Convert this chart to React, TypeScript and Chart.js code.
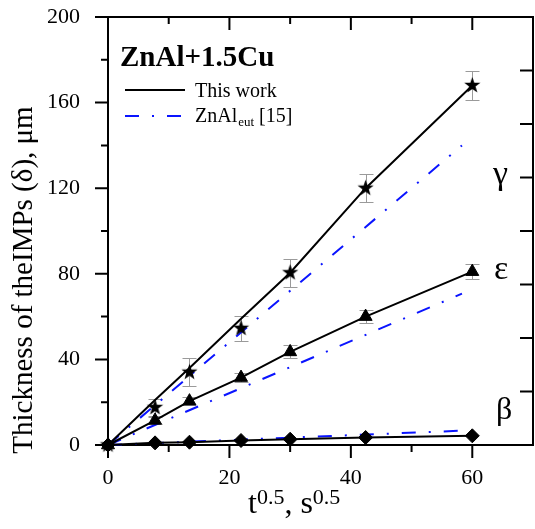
import React, { useEffect, useRef } from "react";
import { Chart, registerables } from "chart.js";

Chart.register(...registerables);

// ---- data ----
const tX = [0, 7.75, 13.42, 21.91, 30, 42.43, 60];
const gammaPts = [0, 17.5, 34, 54.5, 80.5, 120, 168];
const gammaErr = [0, 4, 6.5, 6, 6.5, 6.5, 7];
const gammaFit = [0, 21, 36, 59, 80.5, 120, 168];
const epsPts = [0, 11.5, 20.5, 31.5, 43.5, 60, 81];
const epsErr = [0, 1.5, 2, 2, 3, 3, 3.5];
const betaPts = [0, 1, 1.3, 2.1, 2.7, 3.5, 4.3];
const refX = [0, 58.3];
const refGamma = [0, 140];
const refEps = [0, 70.7];
const refBeta = [0, 6.7];
const xTickLabels = [0, 20, 40, 60];
const yTickLabels = [0, 40, 80, 120, 160, 200];
const rightTicks = [25, 50, 75, 100, 125, 150, 175];

const SERIF = '"Liberation Serif", "Times New Roman", serif';
const BLUE = "#0a14ff";

const toXY = (xs: number[], ys: number[]) => xs.map((x, i) => ({ x, y: ys[i] }));

function makeStar(outer: number, inner: number) {
  const s = Math.ceil(outer * 2 + 2);
  const c = document.createElement("canvas");
  c.width = s;
  c.height = s;
  const g = c.getContext("2d")!;
  g.beginPath();
  for (let i = 0; i < 10; i++) {
    const r = i % 2 === 0 ? outer : inner;
    const a = -Math.PI / 2 + (i * Math.PI) / 5;
    const px = s / 2 + r * Math.cos(a);
    const py = s / 2 + r * Math.sin(a);
    if (i === 0) g.moveTo(px, py);
    else g.lineTo(px, py);
  }
  g.closePath();
  g.fillStyle = "#000";
  g.fill();
  return c;
}

const framePlugin = {
  id: "frameTicks",
  beforeDatasetsDraw(chart: any) {
    const { ctx, chartArea: a } = chart;
    const xs = chart.scales.x;
    const ys = chart.scales.y;
    ctx.save();
    ctx.strokeStyle = "#000";
    ctx.lineWidth = 2;
    ctx.strokeRect(a.left, a.top, a.right - a.left, a.bottom - a.top);
    ctx.beginPath();
    // left (outward) and right (inward)
    for (let v = 0; v <= 200; v += 20) {
      const py = ys.getPixelForValue(v);
      const len = v % 40 === 0 ? 13 : 7;
      ctx.moveTo(a.left - len, py);
      ctx.lineTo(a.left, py);
    }
    rightTicks.forEach((v) => {
      const py = ys.getPixelForValue(v);
      ctx.moveTo(a.right, py);
      ctx.lineTo(a.right - 13, py);
    });
    // bottom (outward) and top (inward)
    for (let v = 0; v <= 60; v += 10) {
      const px = xs.getPixelForValue(v);
      const len = v % 20 === 0 ? 13 : 7;
      ctx.moveTo(px, a.bottom);
      ctx.lineTo(px, a.bottom + len);
      if (v > 0) {
        ctx.moveTo(px, a.top);
        ctx.lineTo(px, a.top + len);
      }
    }
    ctx.stroke();

    // error bars
    ctx.strokeStyle = "#9a9a9a";
    ctx.lineWidth = 1;
    chart.data.datasets.forEach((ds: any, di: number) => {
      if (!ds.errors) return;
      const meta = chart.getDatasetMeta(di);
      meta.data.forEach((el: any, i: number) => {
        const e = ds.errors[i];
        if (!e) return;
        const v = ds.data[i].y;
        const t = Math.round(ys.getPixelForValue(v + e)) + 0.5;
        const b = Math.round(ys.getPixelForValue(v - e)) + 0.5;
        const x = Math.round(el.x) + 0.5;
        ctx.beginPath();
        ctx.moveTo(x, t);
        ctx.lineTo(x, b);
        ctx.moveTo(x - 7, t);
        ctx.lineTo(x + 7, t);
        ctx.moveTo(x - 7, b);
        ctx.lineTo(x + 7, b);
        ctx.stroke();
      });
    });
    ctx.restore();
  },
  afterDraw(chart: any) {
    const { ctx } = chart;
    ctx.save();
    ctx.fillStyle = "#000";
    ctx.textBaseline = "alphabetic";
    ctx.textAlign = "left";

    // title
    ctx.font = `bold 29px ${SERIF}`;
    ctx.fillText("ZnAl+1.5Cu", 120, 66);

    // legend
    ctx.strokeStyle = "#000";
    ctx.lineWidth = 2;
    ctx.beginPath();
    ctx.moveTo(125, 90);
    ctx.lineTo(185, 90);
    ctx.stroke();
    ctx.strokeStyle = BLUE;
    ctx.setLineDash([14, 13, 2, 13]);
    ctx.beginPath();
    ctx.moveTo(125, 116);
    ctx.lineTo(185, 116);
    ctx.stroke();
    ctx.setLineDash([]);
    ctx.font = `20px ${SERIF}`;
    ctx.fillText("This work", 195, 97);
    let x = 195;
    ctx.fillText("ZnAl", x, 122);
    x += ctx.measureText("ZnAl").width;
    ctx.font = `13px ${SERIF}`;
    ctx.fillText("eut", x + 1, 126);
    x += ctx.measureText("eut").width + 1;
    ctx.font = `20px ${SERIF}`;
    ctx.fillText(" [15]", x, 122);

    // phase labels
    ctx.font = `34px ${SERIF}`;
    ctx.fillText("γ", 493, 184);
    ctx.fillText("ε", 494, 279);
    ctx.font = `32px ${SERIF}`;
    ctx.fillText("β", 496, 419);

    // x title
    x = 248;
    ctx.font = `32px ${SERIF}`;
    ctx.fillText("t", x, 513);
    x += ctx.measureText("t").width;
    ctx.font = `22px ${SERIF}`;
    ctx.fillText("0.5", x, 504);
    x += ctx.measureText("0.5").width;
    ctx.font = `32px ${SERIF}`;
    ctx.fillText(", s", x, 513);
    x += ctx.measureText(", s").width;
    ctx.font = `22px ${SERIF}`;
    ctx.fillText("0.5", x, 504);

    // y title
    ctx.translate(32, 280);
    ctx.rotate(-Math.PI / 2);
    ctx.textAlign = "center";
    ctx.font = `29px ${SERIF}`;
    ctx.fillText("Thickness of theIMPs (δ), μm", 0, 0);
    ctx.restore();
  },
};

export default function App() {
  const ref = useRef<HTMLCanvasElement>(null);
  useEffect(() => {
    const star = makeStar(8.5, 3.4);
    const chart = new Chart(ref.current!, {
      type: "scatter",
      data: {
        datasets: [
          {
            label: "gamma",
            data: toXY(tX, gammaPts),
            errors: gammaErr,
            pointStyle: star,
            showLine: false,
          } as any,
          {
            label: "eps",
            data: toXY(tX, epsPts),
            errors: epsErr,
            pointStyle: "triangle",
            pointRadius: 7.5,
            backgroundColor: "#000",
            borderColor: "#000",
            borderWidth: 1,
            showLine: false,
          } as any,
          {
            label: "beta",
            data: toXY(tX, betaPts),
            pointStyle: "rectRot",
            pointRadius: 7,
            backgroundColor: "#000",
            borderColor: "#000",
            borderWidth: 1,
            showLine: false,
          },
          {
            label: "gamma fit",
            data: toXY(tX, gammaFit),
            showLine: true,
            borderColor: "#000",
            borderWidth: 2,
            pointRadius: 0,
          },
          {
            label: "eps line",
            data: toXY(tX, epsPts),
            showLine: true,
            borderColor: "#000",
            borderWidth: 2,
            pointRadius: 0,
          },
          {
            label: "beta line",
            data: toXY(tX, betaPts),
            showLine: true,
            borderColor: "#000",
            borderWidth: 2,
            pointRadius: 0,
          },
          {
            label: "ref gamma",
            data: toXY(refX, refGamma),
            showLine: true,
            borderColor: BLUE,
            borderWidth: 2,
            borderDash: [14, 13, 2, 13],
            pointRadius: 0,
          },
          {
            label: "ref eps",
            data: toXY(refX, refEps),
            showLine: true,
            borderColor: BLUE,
            borderWidth: 2,
            borderDash: [14, 13, 2, 13],
            pointRadius: 0,
          },
          {
            label: "ref beta",
            data: toXY(refX, refBeta),
            showLine: true,
            borderColor: BLUE,
            borderWidth: 2,
            borderDash: [14, 13, 2, 13],
            pointRadius: 0,
          },
        ],
      },
      options: {
        responsive: false,
        animation: false,
        clip: false as any,
        layout: { autoPadding: false, padding: { top: 17, right: 2, left: 0, bottom: 0 } },
        plugins: { legend: { display: false }, tooltip: { enabled: false } },
        scales: {
          x: {
            type: "linear",
            min: 0,
            max: 70,
            grid: { display: false, drawTicks: true, tickLength: 20 },
            border: { display: false },
            afterFit: (s: any) => {
              s.height = 84;
            },
            ticks: {
              stepSize: 10,
              autoSkip: false,
              maxRotation: 0,
              padding: 0,
              color: "#000",
              font: { family: SERIF, size: 22 },
              callback: (v: any) => (xTickLabels.includes(Number(v)) ? String(v) : ""),
            },
          },
          y: {
            type: "linear",
            min: 0,
            max: 200,
            grid: { display: false, drawTicks: true, tickLength: 28 },
            border: { display: false },
            afterFit: (s: any) => {
              s.width = 108;
            },
            ticks: {
              stepSize: 20,
              autoSkip: false,
              padding: 0,
              color: "#000",
              font: { family: SERIF, size: 22 },
              callback: (v: any) => (yTickLabels.includes(Number(v)) ? String(v) : ""),
            },
          },
        },
      },
      plugins: [framePlugin],
    });
    return () => chart.destroy();
  }, []);
  return (
    <div style={{ position: "fixed", left: 0, top: 0, width: 535, height: 529, background: "#fff" }}>
      <canvas ref={ref} width={535} height={529} style={{ display: "block" }} />
    </div>
  );
}
